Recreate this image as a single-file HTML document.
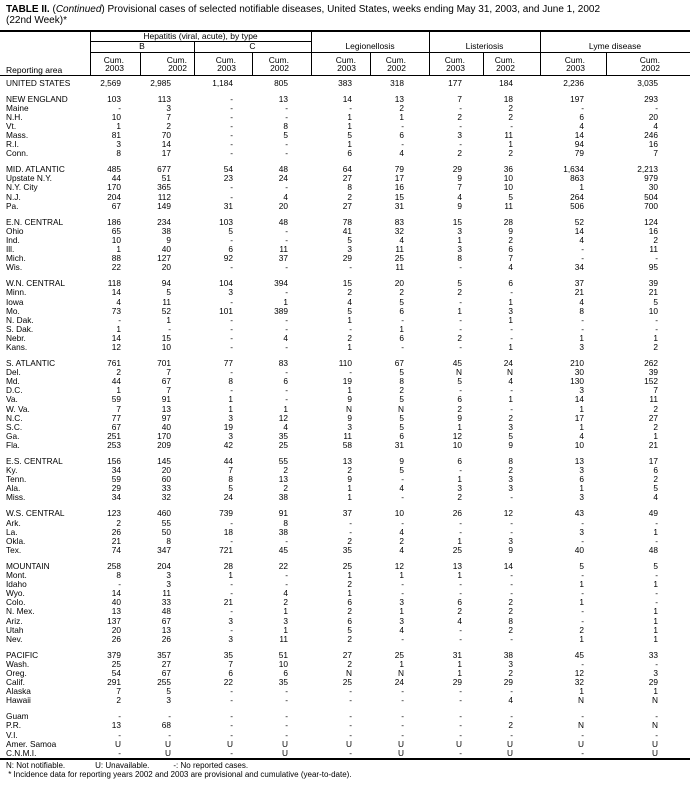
<!DOCTYPE html>
<html><head><meta charset="utf-8">
<style>
*{margin:0;padding:0;box-sizing:border-box}
body{width:690px;height:785px;background:#fff;position:relative;overflow:hidden;font-family:"Liberation Sans Narrow","Liberation Sans",sans-serif;color:#000}
.t{position:absolute;left:6px;font-size:10px;line-height:11px;white-space:nowrap}
.hl{position:absolute;background:#000;height:1px}
.vl{position:absolute;background:#000;width:1px}
.h{position:absolute;font-size:8.5px;line-height:9px;text-align:center;white-space:nowrap}
.c{position:absolute;font-size:8.5px;line-height:8px;text-align:right;white-space:nowrap}
table{position:absolute;left:0;top:78.5px;border-collapse:collapse;table-layout:fixed;width:690px;font-size:8.3px}
td{height:9.1px;line-height:9px;padding:0;text-align:right;white-space:nowrap;overflow:visible}
td:first-child{text-align:left;padding-left:6px}
td:nth-child(2){padding-right:19px}td:nth-child(3){padding-right:23px}
td:nth-child(4){padding-right:19px}td:nth-child(5){padding-right:23px}
td:nth-child(6){padding-right:18px}td:nth-child(7){padding-right:25px}
td:nth-child(8){padding-right:21px}td:nth-child(9){padding-right:27px}
td:nth-child(10){padding-right:22px}td:nth-child(11){padding-right:32px}
tr.g td{height:7px;line-height:7px}
.f{position:absolute;left:6px;font-size:8px;line-height:9px;white-space:nowrap}
</style></head><body>
<div class="t" style="top:4px"><b>TABLE II.</b> (<i>Continued</i>) Provisional cases of selected notifiable diseases, United States, weeks ending May 31, 2003, and June 1, 2002</div>
<div class="t" style="top:15px">(22nd Week)*</div>
<div class="hl" style="left:0;top:30px;width:690px;height:2px"></div>
<div class="hl" style="left:90px;top:41px;width:221px"></div>
<div class="hl" style="left:90px;top:52px;width:600px"></div>
<div class="hl" style="left:0;top:75px;width:690px"></div>
<div class="vl" style="left:90px;top:32px;height:43px"></div>
<div class="vl" style="left:194px;top:41px;height:34px"></div>
<div class="vl" style="left:311px;top:32px;height:43px"></div>
<div class="vl" style="left:429px;top:32px;height:43px"></div>
<div class="vl" style="left:540px;top:32px;height:43px"></div>
<div class="vl" style="left:140px;top:52px;height:23px"></div>
<div class="vl" style="left:252px;top:52px;height:23px"></div>
<div class="vl" style="left:370px;top:52px;height:23px"></div>
<div class="vl" style="left:483px;top:52px;height:23px"></div>
<div class="vl" style="left:606px;top:52px;height:23px"></div>
<div class="h" style="left:90px;width:221px;top:32px">Hepatitis (viral, acute), by type</div>
<div class="h" style="left:90px;width:104px;top:42px">B</div>
<div class="h" style="left:194px;width:117px;top:42px">C</div>
<div class="h" style="left:311px;width:118px;top:42px">Legionellosis</div>
<div class="h" style="left:429px;width:111px;top:42px">Listeriosis</div>
<div class="h" style="left:540px;width:150px;top:42px">Lyme disease</div>
<div class="h" style="left:6px;top:66px;text-align:left">Reporting area</div>
<div class="c" style="left:90px;width:34px;top:56px">Cum.<br>2003</div>
<div class="c" style="left:140px;width:47px;top:56px">Cum.<br>2002</div>
<div class="c" style="left:194px;width:42px;top:56px">Cum.<br>2003</div>
<div class="c" style="left:252px;width:37px;top:56px">Cum.<br>2002</div>
<div class="c" style="left:311px;width:45px;top:56px">Cum.<br>2003</div>
<div class="c" style="left:370px;width:36px;top:56px">Cum.<br>2002</div>
<div class="c" style="left:429px;width:36px;top:56px">Cum.<br>2003</div>
<div class="c" style="left:483px;width:32px;top:56px">Cum.<br>2002</div>
<div class="c" style="left:540px;width:45px;top:56px">Cum.<br>2003</div>
<div class="c" style="left:606px;width:54px;top:56px">Cum.<br>2002</div>
<table>
<colgroup><col style="width:90px"><col style="width:50px"><col style="width:54px"><col style="width:58px"><col style="width:59px"><col style="width:59px"><col style="width:59px"><col style="width:54px"><col style="width:57px"><col style="width:66px"><col style="width:84px"></colgroup>
<tr><td>UNITED STATES</td><td>2,569</td><td>2,985</td><td>1,184</td><td>805</td><td>383</td><td>318</td><td>177</td><td>184</td><td>2,236</td><td>3,035</td></tr>
<tr class="g"><td colspan="11"></td></tr>
<tr><td>NEW ENGLAND</td><td>103</td><td>113</td><td>-</td><td>13</td><td>14</td><td>13</td><td>7</td><td>18</td><td>197</td><td>293</td></tr>
<tr><td>Maine</td><td>-</td><td>3</td><td>-</td><td>-</td><td>-</td><td>2</td><td>-</td><td>2</td><td>-</td><td>-</td></tr>
<tr><td>N.H.</td><td>10</td><td>7</td><td>-</td><td>-</td><td>1</td><td>1</td><td>2</td><td>2</td><td>6</td><td>20</td></tr>
<tr><td>Vt.</td><td>1</td><td>2</td><td>-</td><td>8</td><td>1</td><td>-</td><td>-</td><td>-</td><td>4</td><td>4</td></tr>
<tr><td>Mass.</td><td>81</td><td>70</td><td>-</td><td>5</td><td>5</td><td>6</td><td>3</td><td>11</td><td>14</td><td>246</td></tr>
<tr><td>R.I.</td><td>3</td><td>14</td><td>-</td><td>-</td><td>1</td><td>-</td><td>-</td><td>1</td><td>94</td><td>16</td></tr>
<tr><td>Conn.</td><td>8</td><td>17</td><td>-</td><td>-</td><td>6</td><td>4</td><td>2</td><td>2</td><td>79</td><td>7</td></tr>
<tr class="g"><td colspan="11"></td></tr>
<tr><td>MID. ATLANTIC</td><td>485</td><td>677</td><td>54</td><td>48</td><td>64</td><td>79</td><td>29</td><td>36</td><td>1,634</td><td>2,213</td></tr>
<tr><td>Upstate N.Y.</td><td>44</td><td>51</td><td>23</td><td>24</td><td>27</td><td>17</td><td>9</td><td>10</td><td>863</td><td>979</td></tr>
<tr><td>N.Y. City</td><td>170</td><td>365</td><td>-</td><td>-</td><td>8</td><td>16</td><td>7</td><td>10</td><td>1</td><td>30</td></tr>
<tr><td>N.J.</td><td>204</td><td>112</td><td>-</td><td>4</td><td>2</td><td>15</td><td>4</td><td>5</td><td>264</td><td>504</td></tr>
<tr><td>Pa.</td><td>67</td><td>149</td><td>31</td><td>20</td><td>27</td><td>31</td><td>9</td><td>11</td><td>506</td><td>700</td></tr>
<tr class="g"><td colspan="11"></td></tr>
<tr><td>E.N. CENTRAL</td><td>186</td><td>234</td><td>103</td><td>48</td><td>78</td><td>83</td><td>15</td><td>28</td><td>52</td><td>124</td></tr>
<tr><td>Ohio</td><td>65</td><td>38</td><td>5</td><td>-</td><td>41</td><td>32</td><td>3</td><td>9</td><td>14</td><td>16</td></tr>
<tr><td>Ind.</td><td>10</td><td>9</td><td>-</td><td>-</td><td>5</td><td>4</td><td>1</td><td>2</td><td>4</td><td>2</td></tr>
<tr><td>Ill.</td><td>1</td><td>40</td><td>6</td><td>11</td><td>3</td><td>11</td><td>3</td><td>6</td><td>-</td><td>11</td></tr>
<tr><td>Mich.</td><td>88</td><td>127</td><td>92</td><td>37</td><td>29</td><td>25</td><td>8</td><td>7</td><td>-</td><td>-</td></tr>
<tr><td>Wis.</td><td>22</td><td>20</td><td>-</td><td>-</td><td>-</td><td>11</td><td>-</td><td>4</td><td>34</td><td>95</td></tr>
<tr class="g"><td colspan="11"></td></tr>
<tr><td>W.N. CENTRAL</td><td>118</td><td>94</td><td>104</td><td>394</td><td>15</td><td>20</td><td>5</td><td>6</td><td>37</td><td>39</td></tr>
<tr><td>Minn.</td><td>14</td><td>5</td><td>3</td><td>-</td><td>2</td><td>2</td><td>2</td><td>-</td><td>21</td><td>21</td></tr>
<tr><td>Iowa</td><td>4</td><td>11</td><td>-</td><td>1</td><td>4</td><td>5</td><td>-</td><td>1</td><td>4</td><td>5</td></tr>
<tr><td>Mo.</td><td>73</td><td>52</td><td>101</td><td>389</td><td>5</td><td>6</td><td>1</td><td>3</td><td>8</td><td>10</td></tr>
<tr><td>N. Dak.</td><td>-</td><td>1</td><td>-</td><td>-</td><td>1</td><td>-</td><td>-</td><td>1</td><td>-</td><td>-</td></tr>
<tr><td>S. Dak.</td><td>1</td><td>-</td><td>-</td><td>-</td><td>-</td><td>1</td><td>-</td><td>-</td><td>-</td><td>-</td></tr>
<tr><td>Nebr.</td><td>14</td><td>15</td><td>-</td><td>4</td><td>2</td><td>6</td><td>2</td><td>-</td><td>1</td><td>1</td></tr>
<tr><td>Kans.</td><td>12</td><td>10</td><td>-</td><td>-</td><td>1</td><td>-</td><td>-</td><td>1</td><td>3</td><td>2</td></tr>
<tr class="g"><td colspan="11"></td></tr>
<tr><td>S. ATLANTIC</td><td>761</td><td>701</td><td>77</td><td>83</td><td>110</td><td>67</td><td>45</td><td>24</td><td>210</td><td>262</td></tr>
<tr><td>Del.</td><td>2</td><td>7</td><td>-</td><td>-</td><td>-</td><td>5</td><td>N</td><td>N</td><td>30</td><td>39</td></tr>
<tr><td>Md.</td><td>44</td><td>67</td><td>8</td><td>6</td><td>19</td><td>8</td><td>5</td><td>4</td><td>130</td><td>152</td></tr>
<tr><td>D.C.</td><td>1</td><td>7</td><td>-</td><td>-</td><td>1</td><td>2</td><td>-</td><td>-</td><td>3</td><td>7</td></tr>
<tr><td>Va.</td><td>59</td><td>91</td><td>1</td><td>-</td><td>9</td><td>5</td><td>6</td><td>1</td><td>14</td><td>11</td></tr>
<tr><td>W. Va.</td><td>7</td><td>13</td><td>1</td><td>1</td><td>N</td><td>N</td><td>2</td><td>-</td><td>1</td><td>2</td></tr>
<tr><td>N.C.</td><td>77</td><td>97</td><td>3</td><td>12</td><td>9</td><td>5</td><td>9</td><td>2</td><td>17</td><td>27</td></tr>
<tr><td>S.C.</td><td>67</td><td>40</td><td>19</td><td>4</td><td>3</td><td>5</td><td>1</td><td>3</td><td>1</td><td>2</td></tr>
<tr><td>Ga.</td><td>251</td><td>170</td><td>3</td><td>35</td><td>11</td><td>6</td><td>12</td><td>5</td><td>4</td><td>1</td></tr>
<tr><td>Fla.</td><td>253</td><td>209</td><td>42</td><td>25</td><td>58</td><td>31</td><td>10</td><td>9</td><td>10</td><td>21</td></tr>
<tr class="g"><td colspan="11"></td></tr>
<tr><td>E.S. CENTRAL</td><td>156</td><td>145</td><td>44</td><td>55</td><td>13</td><td>9</td><td>6</td><td>8</td><td>13</td><td>17</td></tr>
<tr><td>Ky.</td><td>34</td><td>20</td><td>7</td><td>2</td><td>2</td><td>5</td><td>-</td><td>2</td><td>3</td><td>6</td></tr>
<tr><td>Tenn.</td><td>59</td><td>60</td><td>8</td><td>13</td><td>9</td><td>-</td><td>1</td><td>3</td><td>6</td><td>2</td></tr>
<tr><td>Ala.</td><td>29</td><td>33</td><td>5</td><td>2</td><td>1</td><td>4</td><td>3</td><td>3</td><td>1</td><td>5</td></tr>
<tr><td>Miss.</td><td>34</td><td>32</td><td>24</td><td>38</td><td>1</td><td>-</td><td>2</td><td>-</td><td>3</td><td>4</td></tr>
<tr class="g"><td colspan="11"></td></tr>
<tr><td>W.S. CENTRAL</td><td>123</td><td>460</td><td>739</td><td>91</td><td>37</td><td>10</td><td>26</td><td>12</td><td>43</td><td>49</td></tr>
<tr><td>Ark.</td><td>2</td><td>55</td><td>-</td><td>8</td><td>-</td><td>-</td><td>-</td><td>-</td><td>-</td><td>-</td></tr>
<tr><td>La.</td><td>26</td><td>50</td><td>18</td><td>38</td><td>-</td><td>4</td><td>-</td><td>-</td><td>3</td><td>1</td></tr>
<tr><td>Okla.</td><td>21</td><td>8</td><td>-</td><td>-</td><td>2</td><td>2</td><td>1</td><td>3</td><td>-</td><td>-</td></tr>
<tr><td>Tex.</td><td>74</td><td>347</td><td>721</td><td>45</td><td>35</td><td>4</td><td>25</td><td>9</td><td>40</td><td>48</td></tr>
<tr class="g"><td colspan="11"></td></tr>
<tr><td>MOUNTAIN</td><td>258</td><td>204</td><td>28</td><td>22</td><td>25</td><td>12</td><td>13</td><td>14</td><td>5</td><td>5</td></tr>
<tr><td>Mont.</td><td>8</td><td>3</td><td>1</td><td>-</td><td>1</td><td>1</td><td>1</td><td>-</td><td>-</td><td>-</td></tr>
<tr><td>Idaho</td><td>-</td><td>3</td><td>-</td><td>-</td><td>2</td><td>-</td><td>-</td><td>-</td><td>1</td><td>1</td></tr>
<tr><td>Wyo.</td><td>14</td><td>11</td><td>-</td><td>4</td><td>1</td><td>-</td><td>-</td><td>-</td><td>-</td><td>-</td></tr>
<tr><td>Colo.</td><td>40</td><td>33</td><td>21</td><td>2</td><td>6</td><td>3</td><td>6</td><td>2</td><td>1</td><td>-</td></tr>
<tr><td>N. Mex.</td><td>13</td><td>48</td><td>-</td><td>1</td><td>2</td><td>1</td><td>2</td><td>2</td><td>-</td><td>1</td></tr>
<tr><td>Ariz.</td><td>137</td><td>67</td><td>3</td><td>3</td><td>6</td><td>3</td><td>4</td><td>8</td><td>-</td><td>1</td></tr>
<tr><td>Utah</td><td>20</td><td>13</td><td>-</td><td>1</td><td>5</td><td>4</td><td>-</td><td>2</td><td>2</td><td>1</td></tr>
<tr><td>Nev.</td><td>26</td><td>26</td><td>3</td><td>11</td><td>2</td><td>-</td><td>-</td><td>-</td><td>1</td><td>1</td></tr>
<tr class="g"><td colspan="11"></td></tr>
<tr><td>PACIFIC</td><td>379</td><td>357</td><td>35</td><td>51</td><td>27</td><td>25</td><td>31</td><td>38</td><td>45</td><td>33</td></tr>
<tr><td>Wash.</td><td>25</td><td>27</td><td>7</td><td>10</td><td>2</td><td>1</td><td>1</td><td>3</td><td>-</td><td>-</td></tr>
<tr><td>Oreg.</td><td>54</td><td>67</td><td>6</td><td>6</td><td>N</td><td>N</td><td>1</td><td>2</td><td>12</td><td>3</td></tr>
<tr><td>Calif.</td><td>291</td><td>255</td><td>22</td><td>35</td><td>25</td><td>24</td><td>29</td><td>29</td><td>32</td><td>29</td></tr>
<tr><td>Alaska</td><td>7</td><td>5</td><td>-</td><td>-</td><td>-</td><td>-</td><td>-</td><td>-</td><td>1</td><td>1</td></tr>
<tr><td>Hawaii</td><td>2</td><td>3</td><td>-</td><td>-</td><td>-</td><td>-</td><td>-</td><td>4</td><td>N</td><td>N</td></tr>
<tr class="g"><td colspan="11"></td></tr>
<tr><td>Guam</td><td>-</td><td>-</td><td>-</td><td>-</td><td>-</td><td>-</td><td>-</td><td>-</td><td>-</td><td>-</td></tr>
<tr><td>P.R.</td><td>13</td><td>68</td><td>-</td><td>-</td><td>-</td><td>-</td><td>-</td><td>2</td><td>N</td><td>N</td></tr>
<tr><td>V.I.</td><td>-</td><td>-</td><td>-</td><td>-</td><td>-</td><td>-</td><td>-</td><td>-</td><td>-</td><td>-</td></tr>
<tr><td>Amer. Samoa</td><td>U</td><td>U</td><td>U</td><td>U</td><td>U</td><td>U</td><td>U</td><td>U</td><td>U</td><td>U</td></tr>
<tr><td>C.N.M.I.</td><td>-</td><td>U</td><td>-</td><td>U</td><td>-</td><td>U</td><td>-</td><td>U</td><td>-</td><td>U</td></tr>
</table>
<div class="hl" style="left:0;top:758px;width:690px;height:2px"></div>
<div class="f" style="top:761px">N: Not notifiable.<span style="display:inline-block;width:30px"></span>U: Unavailable.<span style="display:inline-block;width:24px"></span>-: No reported cases.</div>
<div class="f" style="top:770px">&nbsp;* Incidence data for reporting years 2002 and 2003 are provisional and cumulative (year-to-date).</div>
</body></html>
